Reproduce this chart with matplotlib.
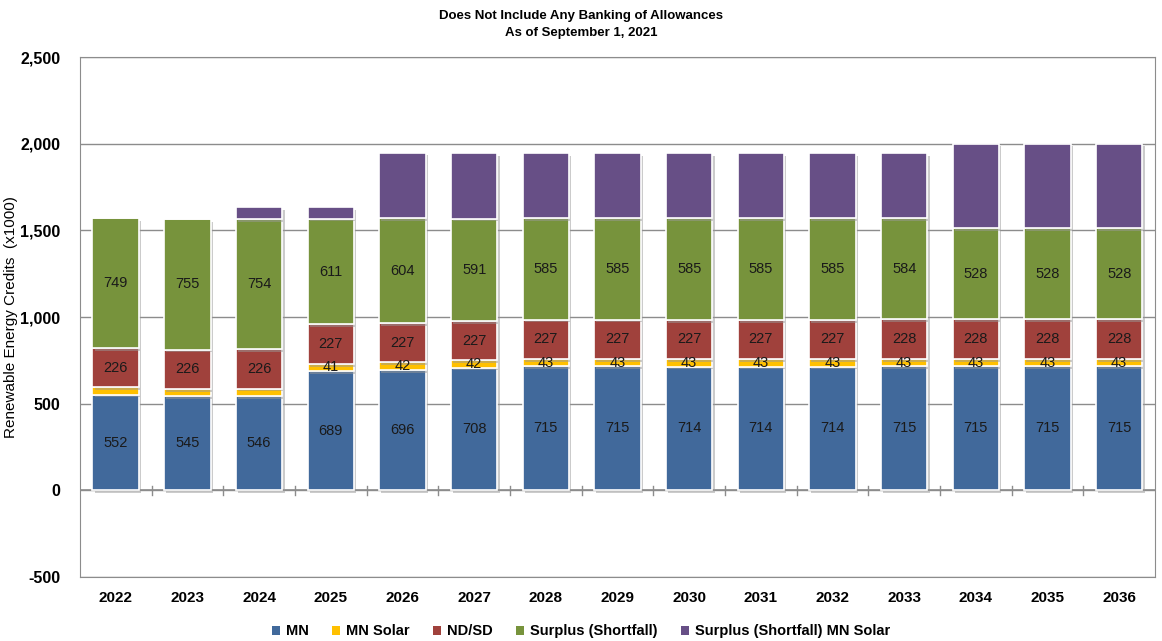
import numpy as np
import matplotlib.pyplot as plt
import matplotlib.patheffects as pe
from matplotlib.patches import Patch

plt.rcParams['font.family'] = ['Liberation Sans', 'DejaVu Sans']

years = ['2022', '2023', '2024', '2025', '2026', '2027', '2028', '2029', '2030',
         '2031', '2032', '2033', '2034', '2035', '2036']
mn = [552, 545, 546, 689, 696, 708, 715, 715, 714, 714, 714, 715, 715, 715, 715]
mn_solar = [42, 41, 41, 41, 42, 42, 43, 43, 43, 43, 43, 43, 43, 43, 43]
ndsd = [226, 226, 226, 227, 227, 227, 227, 227, 227, 227, 227, 228, 228, 228, 228]
surplus = [749, 755, 754, 611, 604, 591, 585, 585, 585, 585, 585, 584, 528, 528, 528]
surplus_solar = [0, 0, 65, 65, 380, 380, 378, 378, 378, 378, 378, 378, 486, 486, 486]
solar_labeled = [False, False, False] + [True] * 12

series = [
    ('MN', mn, '#41699B'),
    ('MN Solar', mn_solar, '#FFC000'),
    ('ND/SD', ndsd, '#A0413C'),
    ('Surplus (Shortfall)', surplus, '#77933C'),
    ('Surplus (Shortfall) MN Solar', surplus_solar, '#674F86'),
]

fig = plt.figure(figsize=(11.62, 6.41), dpi=100)
ax = fig.add_axes([0.0688, 0.0998, 0.9252, 0.8112])

x = np.arange(len(years))
bottom = np.zeros(len(years))
shadow = [pe.SimplePatchShadow(offset=(1.5, -2), shadow_rgbFace='#999999', alpha=0.5), pe.Normal()]
handles = []
for i, (name, vals, col) in enumerate(series):
    vals = np.array(vals, dtype=float)
    bars = ax.bar(x, vals, 0.65, bottom=bottom, color=col, edgecolor='white',
                  linewidth=1.2, zorder=3)
    for b in bars:
        b.set_path_effects(shadow)
    handles.append(Patch(facecolor=col, label=name))
    if i < 4:
        for j, v in enumerate(vals):
            if i == 1 and not solar_labeled[j]:
                continue
            ax.text(x[j], bottom[j] + v / 2, f'{int(v)}', ha='center', va='center',
                    fontsize=10.5, color='#1a1a1a', zorder=5)
    bottom += vals

ax.set_xlim(-0.5, len(years) - 0.5)
ax.set_ylim(-500, 2500)
ax.set_yticks(np.arange(-500, 2501, 500))
ax.set_yticklabels([f'{v:,}' for v in range(-500, 2501, 500)], fontsize=11.5, fontweight='bold')
ax.yaxis.grid(True, color='#8c8c8c', linewidth=1, zorder=0)
ax.tick_params(axis='y', length=0, pad=14)
ax.set_xticks([])
for s in ax.spines.values():
    s.set_color('#8c8c8c')
ax.axhline(0, color='#8c8c8c', linewidth=1.2, zorder=2)
for k in range(1, len(years)):
    ax.plot([k - 0.5, k - 0.5], [-25, 25], color='#8c8c8c', linewidth=1, zorder=2)
for j, yr in enumerate(years):
    ax.text(x[j], -620, yr, ha='center', va='center', fontsize=11, fontweight='bold',
            clip_on=False)

ax.set_ylabel('Renewable Energy Credits  (x1000)', fontsize=11)
ax.yaxis.set_label_coords(-0.058, 0.5)

fig.text(0.5, 0.975, 'Does Not Include Any Banking of Allowances', ha='center', va='center',
         fontsize=9.5, fontweight='bold')
fig.text(0.5, 0.949, 'As of September 1, 2021', ha='center', va='center',
         fontsize=9.5, fontweight='bold')

fig.legend(handles=handles, loc='center', bbox_to_anchor=(0.5, 0.015), ncol=5, frameon=False,
           prop={'size': 10.5, 'weight': 'bold'}, handlelength=0.55, handleheight=0.55,
           columnspacing=1.6, handletextpad=0.4)
fig.savefig('out.png', dpi=100)
